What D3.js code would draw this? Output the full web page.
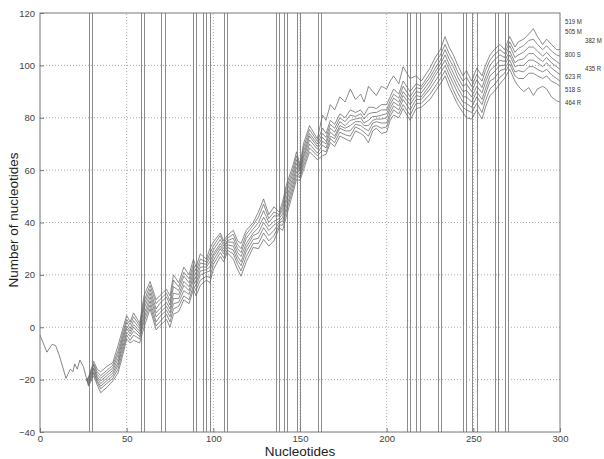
<!DOCTYPE html>
<html><head><meta charset="utf-8">
<script src="https://cdn.jsdelivr.net/npm/d3@7"></script>
<style>body{margin:0;background:#fff;} svg{display:block;font-family:"Liberation Sans",Arial,sans-serif;}</style>
</head><body><svg id="c" width="604" height="459"></svg>
<script>
// ---- data ----
const xTicks = [0, 50, 100, 150, 200, 250, 300];
const yTicks = [-40, -20, 0, 20, 40, 60, 80, 100, 120];
const markers = [28,30,58,60,70,72,88,90,94,96,98,106,108,136,138,140.5,142.5,148,150,160.5,162,211.5,213.5,217,219,229.5,231.5,244,246,249.5,252,262.5,264,268,270];
const sharedX = [0,4,7,9,11,15,17.5,19,20,21.5,23,25,27];
const sharedY = [-3,-9.5,-6.5,-7,-10.5,-19.5,-16,-17,-14,-16,-12.5,-15,-20];
const xs = [28,31,33,35,38.5,42,45,48,50,52, 54,57.5,60,63.5,67,69,73,75,77,80, 83,86,88.5,90,92.5,96,98,100,104,106,
 108,111.5,114,116,119,123,126,129,132,135, 138,140,142,146,148,150,152,155.5,160,163, 165,167.5,170,173,176,179,182,185,187,189.5,
 192,194,197,200,202,204,207,209.5,213.5,217, 220,225,228,231,233.7,236,238.5,241,244,246, 249,252,255,257,259.6,262,265.4,268,271,274,
 276,279,282,284.6,287,290,292.3,295,298,300];
const s519M = [-19,-13,-16,-17,-15,-13.5,-7,0,4.5,2, 5.5,1.5,12,17.5,10.5,12,14.5,12,20,17, 23,20,26,23,28,26,30,32.5,36,33,
 35,37,33,32,37,40,44,49,43,46, 44,48,54,62,67,62,70,77,72,81, 79,85,83,88,86,91,87,89,86,92,
 90,88.5,92,91,94,96,93,99.5,95,96, 94,99,103,106,111,107,104,100,96,98, 94,99,96,100,104,106,108,106,111,107,
 109,110,112,114,111,108,110,108,106,106];
const s505M = [-19.5,-14,-17,-18.5,-16.5,-14.5,-9,-1.5,3,1, 4,0.5,10,16,9,10.5,13,10,18,15.5, 21,18.5,24,21.5,26,25,28,31,35,32,
 34,35.5,31.5,30,35.5,39,42,47,41.5,44, 43,46.5,52.5,60.5,65.5,61,68.5,75.5,71,76, 74,79,77.5,81.5,80,83,82,83,81,84,
 84,83.5,85,85,88,91,89,94,90,93, 92,97,101,104,108,104.5,101.5,97.5,94,95.5, 92,96.5,94,98,102,104,106,104.5,109,105,
 106.5,107.5,109.5,110,108,106,107.5,105.5,104,103.5];
const s382M = [-20,-14.5,-18,-19.5,-17.5,-15.5,-10.5,-3,2,-0.5, 2.5,-0.5,8.5,14.5,7,9,11.5,8.5,15.5,14, 19.5,17,22.5,20,24.5,24,26.5,29.5,33.5,31,
 33,34,30,28.5,34,37.5,40,44.5,40,42.5, 42.5,45,51,59,64,60,67,74,70,74, 72.5,77.5,76,80,78.5,81,80.5,81.5,79.5,81.5,
 82,82,83,83,86.5,89,87.5,92,88,91.5, 91,95.5,99,102,106,102.5,99.5,95.5,92,93, 90,94.5,91.5,95.5,100,102,104,103,107.5,103,
 104,105,107,107,105.5,103.5,105,103,101.5,100.5];
const s800S = [-20.5,-15.5,-19,-20.5,-18.5,-16.5,-12,-4,0.5,-1.5, 1,-1.5,7,13,5.5,7,9.5,7,13,12.5, 17.5,15.5,21,18.5,23,23,25,28,32,30,
 32.5,32.5,28.5,27,32,36,38,42,38.5,40.5, 41.5,43.5,49,57.5,62.5,59.5,65.5,73,69,72.5, 71,76,74.5,78.5,77,79,79.5,80,78,79,
 80.5,80.5,81,81.5,85,87.5,86,90,86.5,90, 89.5,94,97.5,100.5,104,100.5,97,93.5,90,90.5, 88,92,89.5,93.5,98,99.5,102,101.5,105.5,101,
 102,102.5,104.5,104.5,103,101.5,103,101,99.5,98.5];
const s435R = [-21,-16,-19.5,-21.5,-19.5,-17.5,-13.5,-5.5,-0.5,-2.5, 0,-2.5,5,11.5,4,5.5,8,5.5,11,11, 16,14,19.5,17,21.5,22,23,27,31,29,
 31.5,31,27,25,30.5,35,36,40,37,39, 40.5,42,47.5,56,61,58.5,64.5,71.5,68,71, 70,74.5,73,77,76,77,78.5,78.5,77,77,
 79,79.5,79.5,80,83.5,86,84.5,88.5,85,88.5, 88,92.5,96,99,102,98.5,95,91.5,88,88, 86,90,87,91,96,97.5,100,100,104,99.5,
 100,100,102,102,101,99.5,101,99,97.5,96.5];
const s623R = [-21.5,-17,-20.5,-22.5,-20.5,-18.5,-14.5,-7,-2,-3.5, -1.5,-3.5,3.5,10,2,4,6.5,4,9,9.5, 14,12.5,18,15.5,20,21,21.5,25.5,30,28,
 30.5,29.5,25.5,23.5,29,33.5,34,38,35,37, 40,40.5,45.5,54.5,59.5,57.5,63,70,66.5,69.5, 68.5,73,72,76,75,75,77.5,77,76,75,
 78,78.5,78,78,82,84.5,83,87,83,87, 87,91,94,97,100,96.5,93,89.5,86,85.5, 84,88,85,89,94,95,98,98.5,102,97.5,
 98,97.5,99.5,99.5,98.5,97.5,98.5,96.5,95,94];
const s518S = [-22,-17.5,-21,-23.5,-21.5,-19.5,-16,-8.5,-3,-5, -3,-4.5,2,8.5,0.5,2,5,2,7,8, 12,10.5,16,14,18,19.5,19,24,28.5,26.5,
 29.5,28,24,21.5,27,32,32,36,33,35, 39,39,44,53,58,57,61.5,68.5,65.5,67.5, 67,72,70.5,74.5,73.5,73,76.5,75.5,74.5,73,
 76.5,77,76,76.5,80.5,83,81.5,85,81,85.5, 85.5,89,92,95,98,94.5,90.5,87,84,83, 82,85.5,82,86.5,91,92.5,95.5,97,100.5,96,
 95,95,97,97,96,95,96,94,93,92];
const s464R = [-22.5,-18.5,-22,-25,-23,-20.5,-17.5,-10,-4.5,-6, -5,-6,0,7,-1,0.5,3,0,5,6, 10.5,9,14.5,12,16,18,17,22,27,25,
 28.5,26,22,19.5,25,30.5,30,33.5,31,33, 38,37,42,51.5,56.5,56,60,67,64,65.5, 66,70.5,69,73,72,71,75,74,73,70.5,
 75,76,74,74.5,79,81,80,83.5,79,83.5, 84,87,90,93,96,92,88.5,85,82,80, 79.5,83,79.5,84,88.5,90,93,95,98.5,94,
 92,90,91.5,88.5,91,92,91,88,86.5,86];
const seriesNames = ["519 M","505 M","382 M","800 S","435 R","623 R","518 S","464 R"];
const seriesValues = [s519M,s505M,s382M,s800S,s435R,s623R,s518S,s464R];
// label anchor values (where the names sit at the right edge)
const labelY = [117, 113, 109.5, 104.5, 99, 96, 91, 86];
const labelCol = [0, 0, 1, 0, 1, 0, 0, 0];

// ---- chart ----
const svg = d3.select("#c");
const x = d3.scaleLinear().domain([0,300]).range([40,560]);
const y = d3.scaleLinear().domain([-40,120]).range([432,13]);
const g = svg.append("g");

// grid
g.selectAll(".gx").data(xTicks.slice(1,-1)).enter().append("line")
  .attr("x1",d=>x(d)).attr("x2",d=>x(d)).attr("y1",y(-40)).attr("y2",y(120))
  .attr("stroke","#aaa").attr("stroke-width",1).attr("stroke-dasharray","1,2");
g.selectAll(".gy").data(yTicks.slice(1,-1)).enter().append("line")
  .attr("x1",x(0)).attr("x2",x(300)).attr("y1",d=>y(d)).attr("y2",d=>y(d))
  .attr("stroke","#aaa").attr("stroke-width",1).attr("stroke-dasharray","1,2");

// marker vertical lines
g.selectAll(".mk").data(markers).enter().append("line")
  .attr("x1",d=>Math.round(x(d))+0.5).attr("x2",d=>Math.round(x(d))+0.5).attr("y1",y(-40)).attr("y2",y(120))
  .attr("stroke","#8c8c8c").attr("stroke-width",1);

// series lines
const line = d3.line().x(d=>x(d[0])).y(d=>y(d[1]));
g.append("path").datum(sharedX.map((xv,j)=>[xv,sharedY[j]])).attr("d",line).attr("fill","none")
  .attr("stroke","#666").attr("stroke-width",0.8);
seriesValues.forEach((vals,i)=>{
  const pts = [[sharedX[sharedX.length-1], sharedY[sharedY.length-1]]].concat(xs.map((xv,j)=>[xv,vals[j]]));
  g.append("path").datum(pts).attr("d",line).attr("fill","none")
   .attr("stroke","#666").attr("stroke-width",0.75);
});

// frame
g.append("rect").attr("x",x(0)).attr("y",y(120)).attr("width",x(300)-x(0)).attr("height",y(-40)-y(120))
  .attr("fill","none").attr("stroke","#777").attr("stroke-width",1);

// axes
const ax = g.append("g").attr("transform",`translate(0,${y(-40)})`)
  .call(d3.axisBottom(x).tickValues(xTicks).tickSizeInner(-4).tickSizeOuter(0).tickPadding(3));
const ay = g.append("g").attr("transform",`translate(${x(0)},0)`)
  .call(d3.axisLeft(y).tickValues(yTicks).tickSizeInner(-4).tickSizeOuter(0).tickPadding(5));
[ax,ay].forEach(a=>{
  a.select(".domain").remove();
  a.selectAll(".tick line").attr("stroke","#777");
  a.selectAll(".tick text").attr("fill","#444").style("font-size","9.5px");
});

// axis titles
svg.append("text").attr("x",300).attr("y",456).attr("text-anchor","middle")
  .attr("fill","#222").style("font-size","13.5px").text("Nucleotides");
svg.append("text").attr("transform","translate(18,220) rotate(-90)").attr("text-anchor","middle")
  .attr("fill","#222").style("font-size","13.5px").text("Number of nucleotides");

// series labels (narrow, as in the reference)
seriesNames.forEach((n,i)=>{
  svg.append("g").attr("transform",`translate(${labelCol[i]?585:565},${y(labelY[i])+3}) scale(0.76,1)`)
    .append("text").attr("x",0).attr("y",0)
    .attr("fill","#333").style("font-size","8px").text(n);
});
</script></body></html>
